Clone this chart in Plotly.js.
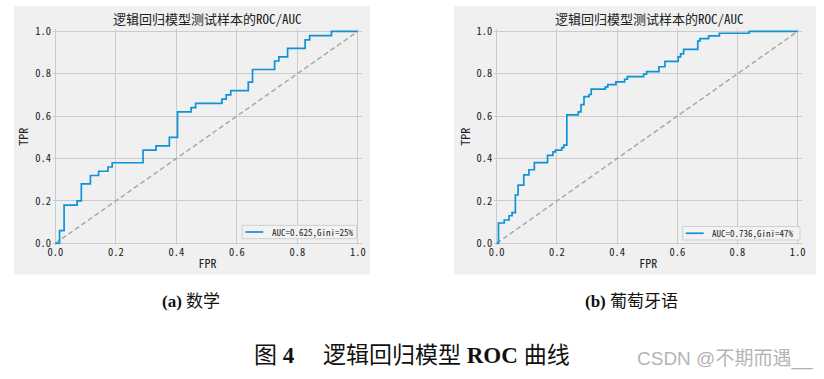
<!DOCTYPE html>
<html>
<head>
<meta charset="utf-8">
<script src="https://cdn.plot.ly/plotly-3.0.1.min.js"></script>
<style>html,body{margin:0;padding:0;background:#fff;}#chart{width:824px;height:379px;}</style>
</head>
<body>
<div id="chart"></div>
<script>
// ---- data ----
const fprMath = [0, 0.014, 0.029, 0.072, 0.086, 0.116, 0.143, 0.174, 0.188, 0.290, 0.333, 0.377, 0.404, 0.449, 0.464, 0.551, 0.565, 0.580, 0.638, 0.652, 0.725, 0.739, 0.768, 0.826, 0.841, 0.913, 1.0];
const tprMath = [0, 0.06, 0.18, 0.20, 0.28, 0.32, 0.34, 0.36, 0.38, 0.44, 0.46, 0.50, 0.62, 0.64, 0.66, 0.68, 0.70, 0.72, 0.76, 0.82, 0.86, 0.88, 0.92, 0.96, 0.98, 1.00, 1.00];
const fprPor = [0, 0.006, 0.025, 0.041, 0.051, 0.062, 0.071, 0.090, 0.107, 0.125, 0.169, 0.187, 0.195, 0.216, 0.223, 0.233, 0.271, 0.280, 0.290, 0.307, 0.314, 0.361, 0.369, 0.396, 0.425, 0.434, 0.488, 0.498, 0.539, 0.559, 0.603, 0.611, 0.621, 0.668, 0.675, 0.704, 0.740, 0.839, 1.0];
const tprPor = [0, 0.096, 0.110, 0.130, 0.145, 0.228, 0.275, 0.323, 0.347, 0.381, 0.415, 0.431, 0.440, 0.451, 0.463, 0.606, 0.620, 0.654, 0.692, 0.702, 0.727, 0.738, 0.749, 0.762, 0.774, 0.786, 0.798, 0.810, 0.833, 0.858, 0.880, 0.894, 0.915, 0.954, 0.966, 0.979, 0.991, 1.0, 1.0];
const diagX = [0, 1];
const diagY = [0, 1];
const legendMath = 'AUC=0.625,Gini=25%';
const legendPor = 'AUC=0.736,Gini=47%';
const plotTitle = '逻辑回归模型测试样本的ROC/AUC';
const xLabel = 'FPR';
const yLabel = 'TPR';
const tickVals = [0, 0.2, 0.4, 0.6, 0.8, 1.0];
const tickText = ['0.0', '0.2', '0.4', '0.6', '0.8', '1.0'];
const captionA = '<b>(a)</b> 数学';
const captionB = '<b>(b)</b> 葡萄牙语';
const figCaption = '图\u00a0<b>4</b>\u00a0\u00a0\u00a0\u00a0\u00a0逻辑回归模型\u00a0<b>ROC</b>\u00a0曲线';
const watermark = 'CSDN @不期而遇__';

// ---- layout helpers (pixels -> paper) ----
const W = 824, H = 379;
const px = x => x / W;
const py = y => 1 - y / H;

const CJK = "'Noto Sans Mono CJK SC', 'Noto Sans CJK SC', 'DejaVu Sans Mono', sans-serif";
const SERIF = "'Liberation Serif', 'Noto Sans CJK SC', serif";
const blue = '#0f92d6';
const gridC = '#cbcbcb';
const bg = '#f0f0f0';

function axisX(domain, anchor) {
  return {
    domain: domain, anchor: anchor, range: [-0.008, 1.015],
    tickvals: tickVals, ticktext: tickText, showgrid: true, gridcolor: gridC, gridwidth: 1,
    zeroline: false, showline: false, ticks: '', ticklabelstandoff: 0,
    tickfont: {family: CJK, size: 10.5, color: '#222'},
    title: {text: xLabel, font: {family: CJK, size: 12, color: '#222'}, standoff: 1}
  };
}
function axisY(domain, anchor) {
  return {
    domain: domain, anchor: anchor, range: [-0.006, 1.012],
    tickvals: tickVals, ticktext: tickText, showgrid: true, gridcolor: gridC, gridwidth: 1,
    zeroline: false, showline: false, ticks: '', ticklabelstandoff: 1,
    tickfont: {family: CJK, size: 10.5, color: '#222'},
    title: {text: yLabel, font: {family: CJK, size: 12, color: '#222'}, standoff: 3}
  };
}

const yDom = [py(244.6), py(28.8)];

const traces = [
  {x: diagX, y: diagY, xaxis: 'x', yaxis: 'y', mode: 'lines', showlegend: false, hoverinfo: 'skip',
   line: {color: '#a8a8a8', width: 1.5, dash: '5px,3px'}},
  {x: fprMath, y: tprMath, xaxis: 'x', yaxis: 'y', mode: 'lines', name: legendMath, showlegend: false,
   line: {color: blue, width: 1.7, shape: 'hv'}},
  {x: diagX, y: diagY, xaxis: 'x2', yaxis: 'y2', mode: 'lines', showlegend: false, hoverinfo: 'skip',
   line: {color: '#a8a8a8', width: 1.5, dash: '5px,3px'}},
  {x: fprPor, y: tprPor, xaxis: 'x2', yaxis: 'y2', mode: 'lines', name: legendPor, showlegend: false,
   line: {color: blue, width: 1.7, shape: 'hv'}}
];

// compact matplotlib-style legend boxes: [boxLeft, boxRight, boxTop, boxBottom]
function legendParts(box, label) {
  const [l, r, t, b] = box;
  const mid = (t + b) / 2;
  return {
    shapes: [
      {type: 'rect', xref: 'paper', yref: 'paper', x0: px(l), x1: px(r), y0: py(b), y1: py(t),
       fillcolor: '#f2f2f2', line: {color: '#cfcfcf', width: 1}},
      {type: 'line', xref: 'paper', yref: 'paper', x0: px(l + 3), x1: px(l + 21), y0: py(mid), y1: py(mid),
       line: {color: blue, width: 1.7}}
    ],
    ann: {text: label, xref: 'paper', yref: 'paper', x: px(l + 27.5), y: py(mid), xanchor: 'left', yanchor: 'middle',
          showarrow: false, font: {family: CJK, size: 9, color: '#222'}}
  };
}
const legA = legendParts([242.3, 356.7, 225.3, 238.7], legendMath);
const legB = legendParts([682.7, 800, 226.5, 240], legendPor);

const layout = {
  width: W, height: H,
  margin: {l: 0, r: 0, t: 0, b: 0, pad: 0},
  paper_bgcolor: '#ffffff', plot_bgcolor: bg,
  showlegend: false,
  xaxis: axisX([px(52.9), px(362.3)], 'y'),
  yaxis: axisY(yDom, 'x'),
  xaxis2: axisX([px(494.3), px(802.2)], 'y2'),
  yaxis2: axisY(yDom, 'x2'),
  shapes: [
    {type: 'rect', xref: 'paper', yref: 'paper', x0: px(14), x1: px(370), y0: py(274.5), y1: py(6),
     fillcolor: bg, line: {width: 0}, layer: 'below'},
    {type: 'rect', xref: 'paper', yref: 'paper', x0: px(454), x1: px(816), y0: py(274.5), y1: py(6),
     fillcolor: bg, line: {width: 0}, layer: 'below'}
  ].concat(legA.shapes, legB.shapes),
  annotations: [
    {text: plotTitle, xref: 'paper', yref: 'paper', x: px(207.5), y: py(18.3), xanchor: 'center', yanchor: 'middle',
     showarrow: false, font: {family: CJK, size: 13, color: '#222'}},
    {text: plotTitle, xref: 'paper', yref: 'paper', x: px(649), y: py(18.3), xanchor: 'center', yanchor: 'middle',
     showarrow: false, font: {family: CJK, size: 13, color: '#222'}},
    legA.ann, legB.ann,
    {text: captionA, xref: 'paper', yref: 'paper', x: px(191), y: py(301), xanchor: 'center', yanchor: 'middle',
     showarrow: false, font: {family: SERIF, size: 17, color: '#111'}},
    {text: captionB, xref: 'paper', yref: 'paper', x: px(631), y: py(301), xanchor: 'center', yanchor: 'middle',
     showarrow: false, font: {family: SERIF, size: 17, color: '#111'}},
    {text: figCaption, xref: 'paper', yref: 'paper', x: px(412), y: py(355), xanchor: 'center', yanchor: 'middle',
     showarrow: false, font: {family: SERIF, size: 23, color: '#111'}},
    {text: watermark, xref: 'paper', yref: 'paper', x: px(725), y: py(359), xanchor: 'center', yanchor: 'middle',
     showarrow: false, font: {family: "'Liberation Sans', 'Noto Sans CJK SC', sans-serif", size: 19, color: '#b4b4b4'}}
  ]
};

Plotly.newPlot('chart', traces, layout, {staticPlot: true, displayModeBar: false});
</script>
</body>
</html>
